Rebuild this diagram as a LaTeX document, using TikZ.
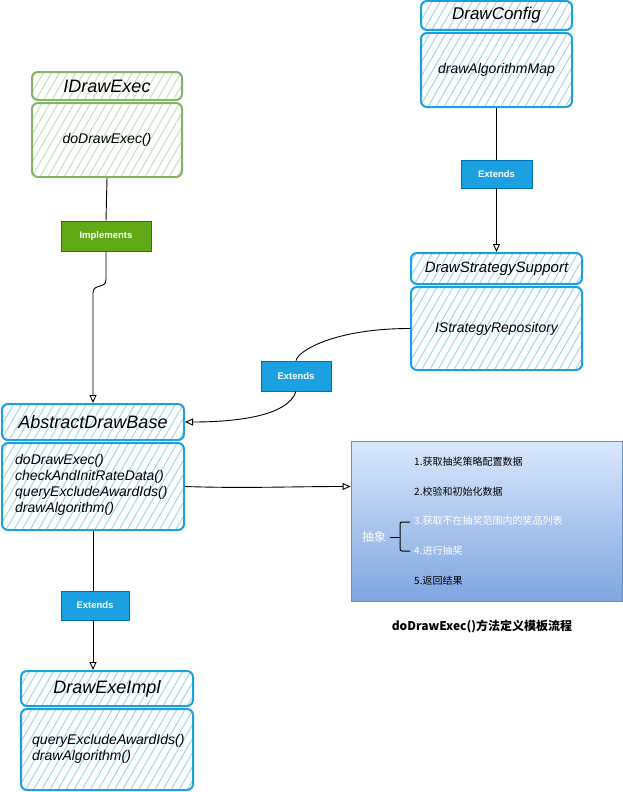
\documentclass[tikz,border=0pt]{standalone}
\usepackage{fontspec}
\setmainfont{Liberation Sans}
\newfontfamily\cjk{Noto Sans CJK SC}
\usetikzlibrary{patterns.meta,arrows.meta,calc}
\definecolor{bstroke}{HTML}{1BA1E2}
\definecolor{bhatch}{HTML}{9FD4F0}
\definecolor{gstroke}{HTML}{82B366}
\definecolor{ghatch}{HTML}{C6E0B4}
\definecolor{lblue}{HTML}{1BA1E2}
\definecolor{lbluedark}{HTML}{006EAF}
\definecolor{lgreen}{HTML}{60A917}
\definecolor{lgreendark}{HTML}{2D7600}
\definecolor{gtop}{HTML}{DAE8FC}
\definecolor{gbot}{HTML}{7EA6E0}
\definecolor{gline}{HTML}{6C8EBF}
\tikzset{
  classbox/.style={draw=bstroke, line width=2pt, rounded corners=6pt, inner sep=0pt,
    pattern={Lines[angle=60,distance=7pt,line width=0.95pt]}, pattern color=bhatch},
  greenbox/.style={classbox, draw=gstroke, pattern color=ghatch},
  hdrtext/.style={font=\itshape\fontsize{18}{20}\selectfont},
  bodytext/.style={font=\itshape\fontsize{14}{16}\selectfont},
  lbl/.style={draw, line width=0.8pt, inner sep=0pt, text=white, font=\bfseries\fontsize{9.5}{11}\selectfont},
  bluelbl/.style={lbl, fill=lblue, draw=lbluedark},
  greenlbl/.style={lbl, fill=lgreen, draw=lgreendark},
  conn/.style={draw=black, line width=0.9pt},
  arr/.style={conn, -{Triangle[open,length=8pt,width=7pt]}},
  steptext/.style={anchor=west, inner sep=0pt, font=\cjk\fontsize{10}{12}\selectfont}
}
\begin{document}
\begin{tikzpicture}[x=1pt,y=-1pt]
\useasboundingbox (0,0) rectangle (623,792);
\fill[white] (0,0) rectangle (623,792);

% IDrawExec
\node[greenbox, minimum width=150, minimum height=28] (ideh) at (107,86) {};
\node[hdrtext] at (ideh.center) {IDrawExec};
\node[greenbox, minimum width=150, minimum height=74] (ideb) at (107,140) {};
\node[bodytext] at (ideb.center) {doDrawExec()};

% DrawConfig
\node[classbox, minimum width=151, minimum height=29] (dch) at (496.5,15.5) {};
\node[font=\itshape\fontsize{17}{19}\selectfont] at (dch.center) {DrawConfig};
\node[classbox, minimum width=151, minimum height=74] (dcb) at (496.5,70) {};
\node[bodytext] at (dcb.center) {drawAlgorithmMap};

% DrawStrategySupport
\node[classbox, minimum width=171, minimum height=31] (dssh) at (496.5,268.5) {};
\node[font=\itshape\fontsize{15}{17}\selectfont] at (dssh.center) {DrawStrategySupport};
\node[classbox, minimum width=171, minimum height=83] (dssb) at (496.5,328.5) {};
\node[bodytext] at (dssb.center) {IStrategyRepository};

% AbstractDrawBase
\node[classbox, minimum width=182, minimum height=36] (adbh) at (93,422) {};
\node[hdrtext] at (adbh.center) {AbstractDrawBase};
\node[classbox, minimum width=182, minimum height=87] (adbb) at (93,486.5) {};
\node[bodytext, anchor=west, align=left, inner sep=0pt] at (15,485) {doDrawExec()\\checkAndInitRateData()\\queryExcludeAwardIds()\\drawAlgorithm()};

% DrawExeImpl
\node[classbox, minimum width=172, minimum height=35] (deih) at (107,688.5) {};
\node[hdrtext] at (deih.center) {DrawExeImpl};
\node[classbox, minimum width=172, minimum height=81] (deib) at (107,749.5) {};
\node[bodytext, anchor=west, align=left, inner sep=0pt] at (32,749) {queryExcludeAwardIds()\\drawAlgorithm()};

% template flow box
\node[draw=gline, line width=0.8pt, top color=gtop, bottom color=gbot, minimum width=271, minimum height=160, inner sep=0pt] (flow) at (486.5,521) {};
\node[steptext] (s1) at (414,462) {1.获取抽奖策略配置数据};
\node[steptext] (s2) at (414,492) {2.校验和初始化数据};
\node[steptext, text=white] (s3) at (414,521) {3.获取不在抽奖范围内的奖品列表};
\node[steptext, text=white] (s4) at (414,551) {4.进行抽奖};
\node[steptext] (s5) at (414,581) {5.返回结果};
\node[anchor=west, inner sep=0pt, text=white, font=\cjk\fontsize{12}{14}\selectfont] (abs) at (362,537) {抽象};
\draw[line width=1pt, rounded corners=2pt] (410,522) -- (400,522) -- (400,551) -- (410,551);
\draw[line width=1pt] (390,537) -- (400,537);
\node[font=\cjk\bfseries\fontsize{12}{14}\selectfont] (cap) at (482,626) {doDrawExec()方法定义模板流程};

% labels
\node[greenlbl, minimum width=90, minimum height=30] (impl) at (106,236) {Implements};
\node[bluelbl, minimum width=71, minimum height=28] (ext1) at (496.5,174) {Extends};
\node[bluelbl, minimum width=70, minimum height=30] (ext2) at (296,376) {Extends};
\node[bluelbl, minimum width=68, minimum height=29] (ext3) at (95,605.5) {Extends};

% connectors
\draw[conn] (ideb.south) -- (impl.north);
\draw[arr] (impl.south) -- ++(0,28) .. controls ++(0,10) and ++(0,-10) .. ($(adbh.north)+(0,-110)$) -- (adbh.north);
\draw[conn] (dcb.south) -- (ext1.north);
\draw[arr] (ext1.south) -- (dssh.north);
\draw[conn] (dssb.west) .. controls +(-75,0) and +(2,-10) .. (ext2.north);
\draw[arr] (ext2.south) .. controls +(-8,25) and +(50,0) .. (adbh.east);
\draw[arr] (adbb.east) .. controls +(60,2) and +(-60,0) .. (adbb.east -| flow.west);
\draw[conn] (adbb.south) -- (ext3.north -| adbb.south);
\draw[arr] (ext3.south -| adbb.south) -- (adbb.south |- deih.north);
\end{tikzpicture}
\end{document}
